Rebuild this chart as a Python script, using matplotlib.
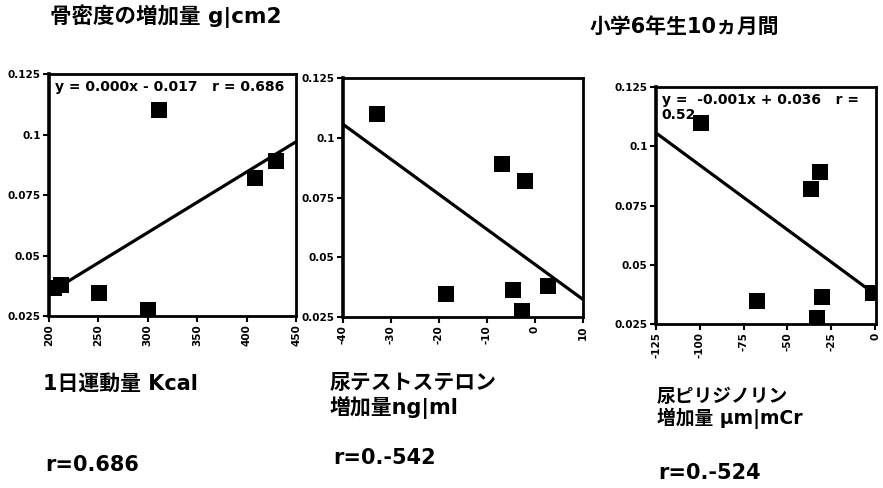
import numpy as np
import matplotlib
matplotlib.use('Agg')
import matplotlib.pyplot as plt

plt.rcParams['font.family'] = ['DejaVu Sans', 'Noto Sans CJK JP']
plt.rcParams['font.weight'] = 'bold'
plt.rcParams['axes.unicode_minus'] = False

#DATA
# bone density gain of the same 7 pupils, one x variable per panel
bone_gain = [0.110, 0.089, 0.082, 0.0345, 0.0365, 0.0275, 0.038]
kcal_x = [311, 430, 408, 251, 205, 300, 212]
testo_x = [-32.9, -6.8, -2.1, -18.5, -4.5, -2.7, 2.8]
pyr_x = [-99.3, -31.3, -36.3, -67.1, -30.5, -33.1, -1.1]

# regression lines
fit_slope = [0.000250, -0.001466, -0.000545]
fit_icpt = [-0.0155, 0.0470, 0.0375]

y_ticks = [0.025, 0.05, 0.075, 0.1, 0.125]
y_tick_labels = ['0.025', '0.05', '0.075', '0.1', '0.125']
x_lims = [(200, 450), (-40, 10), (-125, 0.5)]
x_ticks = [[200, 250, 300, 350, 400, 450],
           [-40, -30, -20, -10, 0, 10],
           [-125, -100, -75, -50, -25, 0]]

fit_texts = ['y = 0.000x - 0.017   r = 0.686',
             None,
             'y =  -0.001x + 0.036   r =\n0.52']

title_left = '骨密度の増加量 g|cm2'
title_right = '小学6年生10ヵ月間'
x_names = ['1日運動量 Kcal', '尿テストステロン\n増加量ng|ml', '尿ピリジノリン\n増加量 μm|mCr']
r_texts = ['r=0.686', 'r=0.-542', 'r=0.-524']

W, H = 883, 488
fig = plt.figure(figsize=(W / 100, H / 100), dpi=100)

def px_box(l, t, r, b):
    return [l / W, 1 - b / H, (r - l) / W, (b - t) / H]

boxes = [px_box(49, 74, 296, 316), px_box(343, 78, 583, 317), px_box(656, 87, 876, 324)]
xs = [kcal_x, testo_x, pyr_x]

for i, box in enumerate(boxes):
    ax = fig.add_axes(box)
    ax.scatter(xs[i], bone_gain, marker='s', s=125, color='black', zorder=3, linewidths=0)
    x_line = np.array(x_lims[i])
    ax.plot(x_line, fit_slope[i] * x_line + fit_icpt[i], color='black', lw=2.3, zorder=2)
    ax.set_xlim(*x_lims[i])
    ax.set_ylim(0.025, 0.125)
    ax.set_yticks(y_ticks)
    ax.set_yticklabels(y_tick_labels)
    ax.set_xticks(x_ticks[i])
    ax.set_xticklabels([str(t) for t in x_ticks[i]], rotation=90)
    ax.tick_params(direction='out', length=4, width=1.5, labelsize=7.5, pad=2)
    for sp in ax.spines.values():
        sp.set_linewidth(2)
    ax.spines['left'].set_linewidth(2.6)
    if fit_texts[i]:
        ax.text(0.025, 0.975, fit_texts[i], transform=ax.transAxes, ha='left', va='top',
                fontsize=10, linespacing=1.1, zorder=1)

def ftext(x, y, s, size=15, **kw):
    fig.text(x / W, 1 - y / H, s, fontsize=size, ha='left', va='center', **kw)

ftext(50, 16, title_left, size=15.5)
ftext(590, 27, title_right)
ftext(43, 384, x_names[0])
ftext(330, 396, x_names[1], linespacing=1.15)
ftext(657, 408, x_names[2], size=13.5, linespacing=1.15)
ftext(45, 465, r_texts[0])
ftext(333, 458, r_texts[1])
ftext(658, 473, r_texts[2])

plt.savefig('out.png', dpi=100)
